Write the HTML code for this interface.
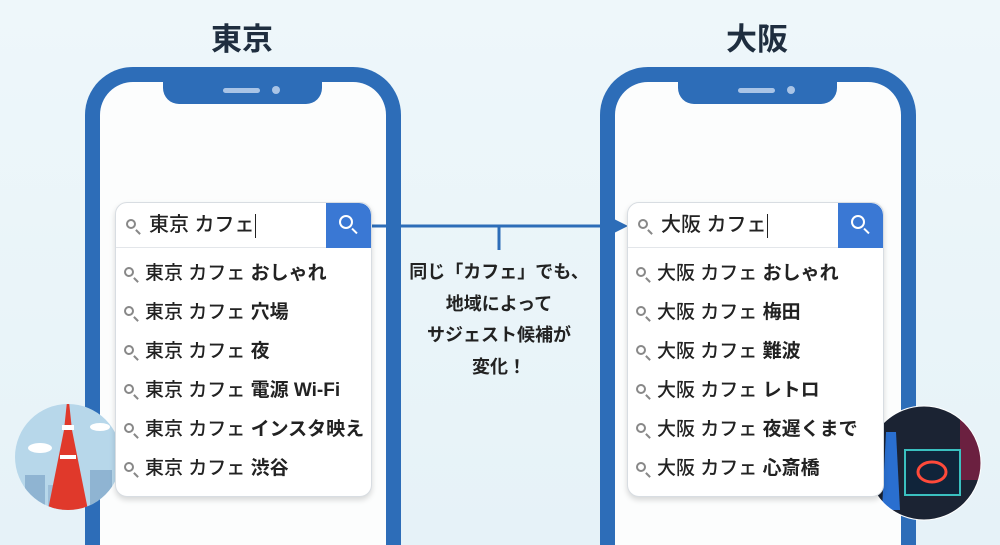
<!DOCTYPE html>
<html><head><meta charset="utf-8"><style>
*{margin:0;padding:0;box-sizing:border-box}
html,body{width:1000px;height:545px;overflow:hidden}
body{background:linear-gradient(180deg,#eef7fa,#e6f2f8);font-family:"Liberation Sans","Noto Sans CJK JP",sans-serif;position:relative;color:#222}
.title{position:absolute;top:14px;font-size:31px;font-weight:bold;color:#1f2e3f;width:120px;text-align:center}
.phone{position:absolute;top:67px;width:316px;height:500px;border:15px solid #2d6db8;border-bottom:none;border-radius:48px 48px 0 0;background:#fcfdfd}
.notch{position:absolute;top:-2px;left:63px;width:159px;height:24px;background:#2d6db8;border-radius:0 0 16px 16px}
.spk{position:absolute;top:8px;left:60px;width:37px;height:5px;border-radius:3px;background:#a9c4e6}
.cam{position:absolute;top:6px;left:109px;width:8px;height:8px;border-radius:50%;background:#a9c4e6}
.box{position:absolute;width:257px;height:295px;background:#fff;border:1px solid #d8dde2;border-radius:12px;box-shadow:0 3px 6px rgba(0,0,0,.15);overflow:hidden}
.bar{height:45px;border-bottom:1px solid #e3e6ea;position:relative;font-size:20px;padding-left:33px;line-height:44px;color:#222;font-weight:500}
.btn{position:absolute;right:0;top:0;width:45px;height:45px;background:#3a78d4;border-top-right-radius:12px}
.row{height:39px;line-height:39px;font-size:19px;padding-left:29px;position:relative;color:#222;font-weight:500}
.row b{font-weight:bold}
.mg{position:absolute;width:10px;height:10px;border:2px solid #888;border-radius:50%}
.mg:after{content:"";position:absolute;width:6px;height:2px;background:#888;transform:rotate(45deg);left:7px;top:10px}
.bar .mg{left:10px;top:16px}
.row .mg{left:8px;top:13px}
.btn .mg{left:13px;top:12px;width:14px;height:14px;border-color:#fff}
.btn .mg:after{background:#fff;left:10px;top:13px;width:7px}
.cur{display:inline-block;width:1px;height:24px;background:#222;vertical-align:middle}
.note{position:absolute;left:399px;top:257px;width:200px;text-align:center;font-size:18px;font-weight:bold;line-height:31.5px;color:#222}
</style></head><body>
<div class="title" style="left:182px">東京</div>
<div class="title" style="left:697px">大阪</div>

<div class="phone" style="left:85px"><div class="notch"><div class="spk"></div><div class="cam"></div></div></div>
<div class="phone" style="left:600px"><div class="notch"><div class="spk"></div><div class="cam"></div></div></div>

<svg style="position:absolute;left:0;top:0" width="1000" height="545">
<line x1="368" y1="226" x2="614" y2="226" stroke="#2d6db8" stroke-width="3"/>
<line x1="499" y1="226" x2="499" y2="250" stroke="#2d6db8" stroke-width="3"/>
<polygon points="612,218 628,226 612,234" fill="#2d6db8"/>
<defs><clipPath id="c1"><circle cx="68" cy="457" r="53"/></clipPath><clipPath id="c2"><circle cx="924" cy="463" r="57"/></clipPath></defs>
<g clip-path="url(#c1)">
<rect x="10" y="400" width="120" height="120" fill="#b7d7ea"/>
<rect x="25" y="475" width="20" height="40" fill="#8fb4d2"/><rect x="90" y="470" width="22" height="45" fill="#8fb4d2"/><rect x="48" y="485" width="15" height="30" fill="#9dbfd9"/>
<ellipse cx="40" cy="448" rx="12" ry="5" fill="#fff"/><ellipse cx="100" cy="427" rx="10" ry="4" fill="#fff"/>
<polygon points="68,392 72,430 88,510 48,510 64,430" fill="#e0392b"/>
<rect x="62" y="425" width="12" height="5" fill="#fff"/><rect x="60" y="455" width="16" height="4" fill="#fff"/>
</g>
<g clip-path="url(#c2)">
<rect x="860" y="400" width="130" height="130" fill="#1b2333"/>
<rect x="960" y="400" width="30" height="80" fill="#6b2040"/>
<polygon points="886,432 896,432 900,510 882,510" fill="#2a6fd0"/>
<rect x="905" y="450" width="55" height="45" fill="#10243a" stroke="#3ac0c0" stroke-width="2"/>
<ellipse cx="932" cy="472" rx="14" ry="10" fill="none" stroke="#ff4a3a" stroke-width="3"/>
</g>
<circle cx="924" cy="463" r="57" fill="none" stroke="#fff" stroke-width="1"/>
</svg>

<div class="box" style="left:115px;top:202px">
<div class="bar"><span class="mg"></span>東京 カフェ<span class="cur"></span><div class="btn"><span class="mg"></span></div></div>
<div style="height:6px"></div>
<div class="row"><span class="mg"></span>東京 カフェ <b>おしゃれ</b></div>
<div class="row"><span class="mg"></span>東京 カフェ <b>穴場</b></div>
<div class="row"><span class="mg"></span>東京 カフェ <b>夜</b></div>
<div class="row"><span class="mg"></span>東京 カフェ <b>電源 Wi-Fi</b></div>
<div class="row"><span class="mg"></span>東京 カフェ <b>インスタ映え</b></div>
<div class="row"><span class="mg"></span>東京 カフェ <b>渋谷</b></div>
</div>

<div class="box" style="left:627px;top:202px">
<div class="bar"><span class="mg"></span>大阪 カフェ<span class="cur"></span><div class="btn"><span class="mg"></span></div></div>
<div style="height:6px"></div>
<div class="row"><span class="mg"></span>大阪 カフェ <b>おしゃれ</b></div>
<div class="row"><span class="mg"></span>大阪 カフェ <b>梅田</b></div>
<div class="row"><span class="mg"></span>大阪 カフェ <b>難波</b></div>
<div class="row"><span class="mg"></span>大阪 カフェ <b>レトロ</b></div>
<div class="row"><span class="mg"></span>大阪 カフェ <b>夜遅くまで</b></div>
<div class="row"><span class="mg"></span>大阪 カフェ <b>心斎橋</b></div>
</div>

<div class="note">同じ「カフェ」でも、<br>地域によって<br>サジェスト候補が<br>変化！</div>
</body></html>
